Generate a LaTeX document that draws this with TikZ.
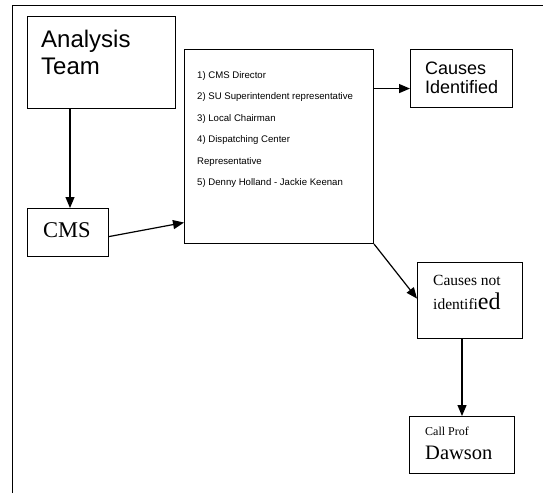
\documentclass[tikz,border=0pt]{standalone}
\usepackage{fontspec}
\setmainfont{Liberation Serif}
\setsansfont{Liberation Sans}
\usetikzlibrary{arrows.meta}
\begin{document}
\begin{tikzpicture}[x=1pt,y=-1pt,
  box/.style={draw,line width=1.1pt,inner sep=0pt,anchor=north west},
  arr/.style={line width=1.2pt,-{Triangle[length=11pt,width=9pt]}},
  lst/.style={anchor=base west,inner sep=0pt,font=\sffamily\fontsize{9.6}{11}\selectfont},
  lbl/.style={anchor=base west,inner sep=0pt}]
\useasboundingbox (0,0) rectangle (543,493);
\draw[line width=1pt] (12,493) -- (12,5) -- (543,5);
% boxes
\node[box,minimum width=148pt,minimum height=92pt] (A) at (27,16) {};
\node[box,minimum width=81pt,minimum height=48pt] (C) at (27,208) {};
\node[box,minimum width=189pt,minimum height=194pt] (L) at (184,49) {};
\node[box,minimum width=102pt,minimum height=58pt] (CI) at (410,49) {};
\node[box,minimum width=105pt,minimum height=76pt] (CN) at (417,262) {};
\node[box,minimum width=105pt,minimum height=57pt] (D) at (409,416) {};
% texts
\node[lbl,font=\sffamily\fontsize{24}{27}\selectfont] (t1) at (41,47) {Analysis};
\node[lbl,font=\sffamily\fontsize{24}{27}\selectfont] (t2) at (41,74) {Team};
\node[lbl,font=\fontsize{22.5}{24}\selectfont] (t3) at (43,237) {CMS};
\node[lst] (l1) at (197,78) {1) CMS Director};
\node[lst] (l2) at (197,99) {2) SU Superintendent representative};
\node[lst] (l3) at (197,121) {3) Local Chairman};
\node[lst] (l4) at (197,142) {4) Dispatching Center};
\node[lst] (l5) at (197,164) {Representative};
\node[lst] (l6) at (197,185) {5) Denny Holland - Jackie Keenan};
\node[lbl,font=\sffamily\fontsize{18}{20}\selectfont] (t4) at (425,74) {Causes};
\node[lbl,font=\sffamily\fontsize{18}{20}\selectfont] (t5) at (425,93) {Identified};
\node[lbl,font=\fontsize{15.5}{18}\selectfont] (t6) at (433,285) {Causes not};
\node[lbl,font=\fontsize{15.5}{18}\selectfont] (t7) at (433,309) {identifi{\fontsize{24}{26}\selectfont ed}};
\node[lbl,font=\fontsize{12}{14}\selectfont] (t8) at (425,435) {Call Prof};
\node[lbl,font=\fontsize{20.5}{24}\selectfont] (t9) at (425,459) {Dawson};
% connectors
\draw[arr] (A.south -| 70,0) -- (C.north -| 70,0);
\draw[arr] ([yshift=-4pt]C.east) -- ([yshift=-76pt]L.west);
\draw[arr] ([yshift=-10pt]L.east |- CI.west) -- ([yshift=-10pt]CI.west);
\draw[arr] (L.south east) -- ([yshift=2pt]CN.west);
\draw[arr] (CN.south -| 462,0) -- (D.north -| 462,0);
\end{tikzpicture}
\end{document}
